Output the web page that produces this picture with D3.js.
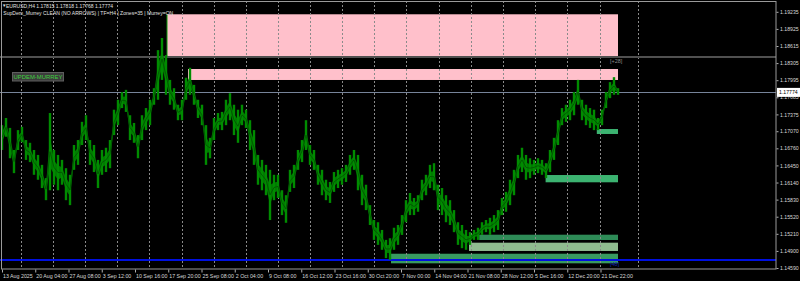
<!DOCTYPE html>
<html>
<head>
<meta charset="utf-8">
<script src="https://cdn.jsdelivr.net/npm/d3@7"></script>
<style>
  html, body { margin: 0; padding: 0; background: #000; }
  svg { display: block; font-family: "Liberation Sans", Arial, sans-serif; }
</style>
</head>
<body>
<div id="chart"></div>
<script>
// H4 bars, high / low per bar
const highs = [1.1718,1.1731,1.1713,1.1673,1.1709,1.1715,1.1691,1.1686,1.1673,1.1664,
  1.1646,1.1622,1.1740,1.1673,1.1664,1.1655,1.1640,1.1628,1.1682,1.1691,
  1.1724,1.1736,1.1691,1.1682,1.1655,1.1673,1.1677,1.1691,1.1746,1.1764,
  1.1778,1.1782,1.1736,1.1722,1.1700,1.1736,1.1749,1.1764,1.1785,1.1854,
  1.1876,1.1845,1.1800,1.1785,1.1755,1.1764,1.1804,1.1822,1.1791,1.1764,
  1.1755,1.1718,1.1695,1.1731,1.1740,1.1742,1.1764,1.1776,1.1755,1.1746,
  1.1755,1.1746,1.1727,1.1709,1.1664,1.1655,1.1646,1.1637,1.1628,1.1628,
  1.1600,1.1591,1.1637,1.1646,1.1673,1.1691,1.1727,1.1682,1.1673,1.1646,
  1.1637,1.1619,1.1615,1.1633,1.1637,1.1640,1.1646,1.1664,1.1673,1.1664,
  1.1628,1.1610,1.1573,1.1546,1.1542,1.1528,1.1510,1.1513,1.1532,1.1537,
  1.1555,1.1582,1.1595,1.1586,1.1591,1.1619,1.1628,1.1646,1.1649,1.1610,
  1.1604,1.1591,1.1582,1.1564,1.1542,1.1537,1.1528,1.1524,1.1528,1.1532,
  1.1542,1.1546,1.1550,1.1555,1.1564,1.1586,1.1597,1.1619,1.1637,1.1664,
  1.1677,1.1664,1.1658,1.1655,1.1658,1.1655,1.1649,1.1673,1.1695,1.1727,
  1.1749,1.1755,1.1764,1.1778,1.1800,1.1764,1.1755,1.1749,1.1746,1.1731,
  1.1746,1.1778,1.1796,1.1805,1.1785]
const lows = [1.1673,1.1697,1.1658,1.1631,1.1673,1.1687,1.1655,1.1651,1.1628,1.1619,
  1.1604,1.1582,1.1600,1.1610,1.1600,1.1610,1.1582,1.1573,1.1637,1.1646,
  1.1682,1.1691,1.1646,1.1633,1.1604,1.1628,1.1633,1.1640,1.1700,1.1718,
  1.1749,1.1742,1.1691,1.1686,1.1658,1.1691,1.1709,1.1718,1.1755,1.1764,
  1.1800,1.1773,1.1755,1.1746,1.1727,1.1727,1.1764,1.1773,1.1755,1.1731,
  1.1718,1.1646,1.1658,1.1691,1.1709,1.1709,1.1718,1.1727,1.1700,1.1686,
  1.1718,1.1713,1.1673,1.1646,1.1610,1.1600,1.1591,1.1546,1.1582,1.1586,
  1.1555,1.1541,1.1597,1.1604,1.1637,1.1651,1.1673,1.1646,1.1637,1.1610,
  1.1591,1.1582,1.1577,1.1597,1.1604,1.1610,1.1615,1.1628,1.1637,1.1600,
  1.1573,1.1564,1.1537,1.1510,1.1501,1.1492,1.1477,1.1474,1.1492,1.1501,
  1.1519,1.1542,1.1555,1.1555,1.1561,1.1582,1.1591,1.1604,1.1600,1.1564,
  1.1555,1.1542,1.1537,1.1524,1.1501,1.1495,1.1492,1.1501,1.1510,1.1510,
  1.1519,1.1524,1.1519,1.1524,1.1528,1.1555,1.1561,1.1573,1.1591,1.1622,
  1.1633,1.1619,1.1622,1.1628,1.1631,1.1628,1.1622,1.1633,1.1655,1.1682,
  1.1718,1.1724,1.1727,1.1736,1.1755,1.1727,1.1718,1.1713,1.1709,1.1709,
  1.1718,1.1749,1.1767,1.1773,1.1773]
const lastClose = 1.17774

const priceTicks = [1.19235, 1.18925, 1.18615, 1.18305, 1.17995, 1.17685, 1.17375, 1.17070,
  1.16760, 1.16450, 1.16140, 1.15830, 1.15520, 1.15210, 1.14900, 1.14590]

const timeLabels = ['13 Aug 2025', '20 Aug 04:00', '27 Aug 08:00', '3 Sep 12:00', '10 Sep 16:00',
  '17 Sep 20:00', '25 Sep 08:00', '2 Oct 04:00', '9 Oct 08:00', '16 Oct 12:00', '23 Oct 16:00',
  '30 Oct 20:00', '7 Nov 00:00', '14 Nov 04:00', '21 Nov 08:00', '28 Nov 12:00', '5 Dec 16:00',
  '12 Dec 20:00', '21 Dec 22:00']

// vertical grid, in bar units
const gridBars = [4.7, 12.7, 20.8, 28.8, 36.8, 44.9, 52.9, 61.0, 69.0, 77.0, 85.1, 93.1,
  101.1, 109.2, 117.2, 125.3, 133.3, 141.3, 149.4, 159.1]

// supply / demand zones: start bar, top, bottom
const zoneStart = [41.25, 46.5, 148.7, 135.9, 119.3, 116.75, 97.25]
const zoneTop = [1.19190, 1.18198, 1.17110, 1.16276, 1.15194, 1.15049, 1.14849]
const zoneBottom = [1.18420, 1.17999, 1.17020, 1.16144, 1.15098, 1.14899, 1.14675]

// murrey lines
const murreyLevels = [1.18416, 1.14735]
const murreyLabels = ['[+28]', '[48]']

const width = 800, height = 281
const plotRight = 776, plotBottom = 269

const svg = d3.select('#chart').append('svg')
  .attr('width', width)
  .attr('height', height)

svg.append('rect').attr('width', width).attr('height', height).attr('fill', '#000')

const x = d3.scaleLinear().domain([0, highs.length - 1]).range([2, 618])
const y = d3.scaleLinear().domain([1.14554, 1.19449]).range([270, 0])
const t = d3.scalePoint().domain(timeLabels).range([2, 600.5])

const zoneColors = ['#ffc0cb', '#ffc0cb', '#3cb371', '#3cb371', '#2e8b57', '#8fbc8f', '#389a60']
const lastBar = x(highs.length - 1)

// zones
svg.append('g').attr('class', 'zones')
  .selectAll('rect')
  .data(zoneStart)
  .join('rect')
  .attr('x', d => x(d))
  .attr('y', (d, i) => y(zoneTop[i]))
  .attr('width', d => lastBar - x(d))
  .attr('height', (d, i) => y(zoneBottom[i]) - y(zoneTop[i]))
  .attr('fill', (d, i) => zoneColors[i])

svg.append('line')
  .attr('x1', x(zoneStart[0])).attr('x2', x(zoneStart[0]))
  .attr('y1', y(zoneTop[0])).attr('y2', y(zoneBottom[0]))
  .attr('stroke', '#0a9a0a').attr('stroke-width', 1)

// grid
svg.append('g').attr('class', 'grid')
  .selectAll('line')
  .data(gridBars)
  .join('line')
  .attr('x1', d => Math.round(x(d)) + 0.5)
  .attr('x2', d => Math.round(x(d)) + 0.5)
  .attr('y1', 1)
  .attr('y2', plotBottom)
  .attr('stroke', '#8a8a8a')
  .attr('stroke-dasharray', '2,2')

// murrey + bid lines
svg.append('g').attr('class', 'murrey')
  .selectAll('line')
  .data(murreyLevels)
  .join('line')
  .attr('x1', 0).attr('x2', plotRight)
  .attr('y1', d => y(d)).attr('y2', d => y(d))
  .attr('stroke', (d, i) => i === 0 ? '#505050' : '#0010e0')
  .attr('stroke-width', 2)

svg.append('line')
  .attr('x1', 0).attr('x2', plotRight)
  .attr('y1', Math.round(y(lastClose)) + 0.5).attr('y2', Math.round(y(lastClose)) + 0.5)
  .attr('stroke', '#77849a').attr('stroke-width', 1)

// price: inner band + high/low wicks
const bars = highs.map((h, i) => ({ i, h, l: lows[i] }))

svg.append('path')
  .datum(bars)
  .attr('fill', '#007800')
  .attr('d', d3.area()
    .x(d => x(d.i))
    .y0(d => y(d.l * 0.7 + d.h * 0.3))
    .y1(d => y(d.h * 0.7 + d.l * 0.3)))

svg.append('g').attr('class', 'bars')
  .selectAll('rect')
  .data(bars)
  .join('rect')
  .attr('x', d => x(d.i) - 1.2)
  .attr('width', 2.4)
  .attr('y', d => y(d.h))
  .attr('height', d => y(d.l) - y(d.h))
  .attr('fill', '#008c00')

svg.append('path')
  .datum(bars)
  .attr('fill', 'none')
  .attr('stroke', '#005000')
  .attr('stroke-width', 0.8)
  .attr('d', d3.line().x(d => x(d.i)).y(d => y((d.h + d.l) / 2)))

svg.append('g').attr('class', 'murrey-labels')
  .selectAll('text')
  .data(murreyLabels)
  .join('text')
  .attr('x', 610)
  .attr('y', (d, i) => y(murreyLevels[i]) + 6)
  .attr('font-size', 5.5)
  .attr('fill', (d, i) => i === 0 ? '#8a8a8a' : '#1020b0')
  .text(d => d)

// frame
svg.append('rect')
  .attr('x', 1.5).attr('y', 1.5)
  .attr('width', plotRight - 1.5).attr('height', plotBottom - 1.5)
  .attr('fill', 'none')
  .attr('stroke', '#9a9a9a')

// price axis
const yAxis = svg.append('g')
  .attr('transform', `translate(${plotRight + 0.5},0)`)
  .call(d3.axisRight(y).tickValues(priceTicks).tickSize(2).tickSizeOuter(0).tickPadding(1.5)
    .tickFormat(d3.format('.5f')))
yAxis.select('.domain').remove()
yAxis.selectAll('line').attr('stroke', '#b0b0b0')
yAxis.selectAll('text').attr('fill', '#d8d8d8').attr('font-size', 5.2)
  .attr('font-family', '"Liberation Sans", Arial, sans-serif')

// bid label
svg.append('rect')
  .attr('x', plotRight + 1).attr('y', y(lastClose) - 4.5)
  .attr('width', 23).attr('height', 9)
  .attr('fill', '#fff')
svg.append('text')
  .attr('x', plotRight + 3).attr('y', y(lastClose) + 2)
  .attr('font-size', 5.2).attr('fill', '#000')
  .text(d3.format('.5f')(lastClose))

// time axis
const xAxis = svg.append('g')
  .attr('transform', `translate(0,${plotBottom + 0.5})`)
  .call(d3.axisBottom(t).tickSize(3).tickSizeOuter(0).tickPadding(2))
xAxis.select('.domain').remove()
xAxis.selectAll('line').attr('stroke', '#b0b0b0')
xAxis.selectAll('text')
  .attr('text-anchor', 'start')
  .attr('dx', 0.5)
  .attr('fill', '#d8d8d8')
  .attr('font-size', 5.3)
  .attr('font-family', '"Liberation Sans", Arial, sans-serif')

// indicator label box
svg.append('rect')
  .attr('x', 12.5).attr('y', 72.5).attr('width', 51).attr('height', 8.5)
  .attr('fill', '#3c3c3c').attr('stroke', '#5e5e5e')
svg.append('text')
  .attr('x', 13.5).attr('y', 79.2)
  .attr('font-size', 6).attr('fill', '#3fcf3f')
  .attr('textLength', 49).attr('lengthAdjust', 'spacingAndGlyphs')
  .text('UPDEM-MURREY')

// header
svg.append('text')
  .attr('x', 2).attr('y', 7.3)
  .attr('font-size', 4.5).attr('fill', '#e0e0e0')
  .text('▼')
svg.append('text')
  .attr('x', 6).attr('y', 7.5)
  .attr('font-size', 5.5).attr('fill', '#e0e0e0')
  .attr('textLength', 107).attr('lengthAdjust', 'spacingAndGlyphs')
  .text('EURUSD,H4  1.17815 1.17818 1.17768 1.17774')
svg.append('text')
  .attr('x', 3.3).attr('y', 14.5)
  .attr('font-size', 5.5).attr('fill', '#e0e0e0')
  .attr('textLength', 170).attr('lengthAdjust', 'spacingAndGlyphs')
  .text('SupDem_Murrey CLEAN (NO ARROWS) | TF=H4 | Zones=35 | Murrey=ON')
</script>
</body>
</html>
